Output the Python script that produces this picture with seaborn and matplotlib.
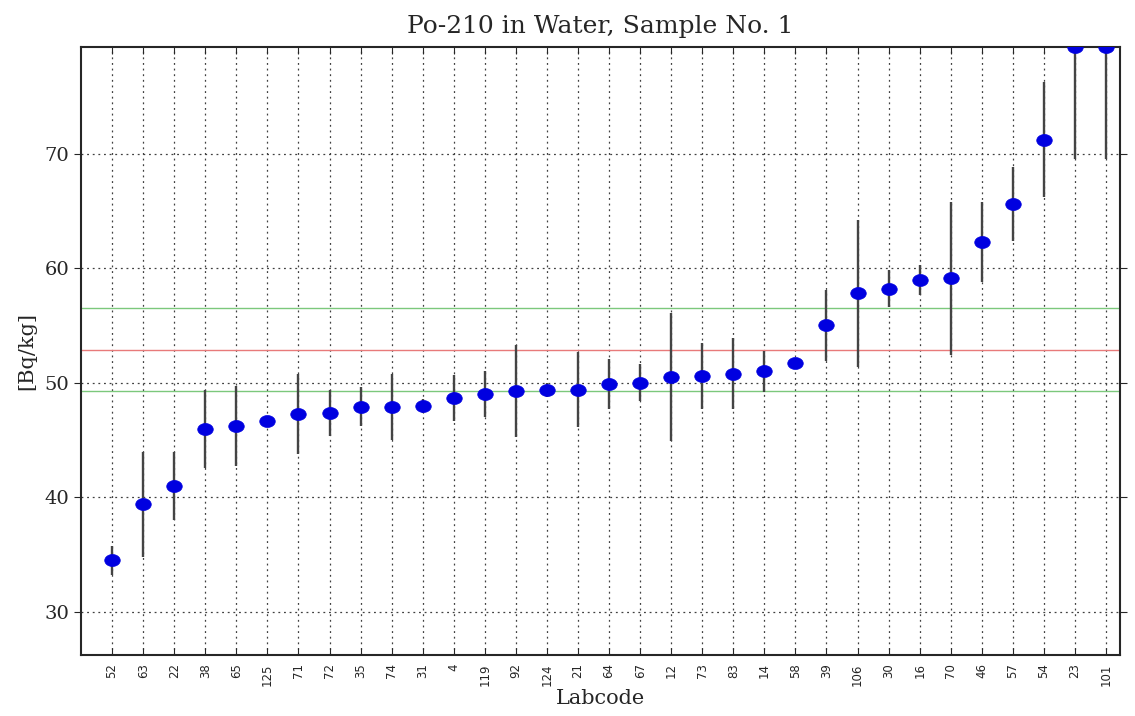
import numpy as np
import pandas as pd
import matplotlib
matplotlib.use("Agg")
import matplotlib.pyplot as plt
from matplotlib.path import Path
import seaborn as sns

labcodes = ["52", "63", "22", "38", "65", "125", "71", "72", "35", "74", "31", "4",
            "119", "92", "124", "21", "64", "67", "12", "73", "83", "14", "58", "39",
            "106", "30", "16", "70", "46", "57", "54", "23", "101"]
values = [34.5, 39.4, 41.0, 46.0, 46.2, 46.7, 47.3, 47.4, 47.9, 47.9, 48.0, 48.7,
          49.0, 49.3, 49.4, 49.4, 49.9, 50.0, 50.5, 50.6, 50.8, 51.0, 51.7, 55.0,
          57.8, 58.2, 59.0, 59.1, 62.3, 65.6, 71.2, 79.3, 79.3]
uncert = [1.3, 4.6, 3.0, 3.4, 3.5, 0.4, 3.5, 2.0, 1.7, 2.9, 0.6, 2.0,
          2.0, 4.0, 0.6, 3.3, 2.2, 1.6, 5.6, 2.9, 3.1, 1.8, 0.5, 3.1,
          6.4, 1.6, 1.3, 6.7, 3.5, 3.2, 5.0, 9.8, 9.8]
ref_value = 52.9
ref_low = 49.3
ref_high = 56.5

df = pd.DataFrame({"pos": np.arange(len(labcodes)), "Labcode": labcodes,
                   "value": values, "unc": uncert})

sns.set_style("white")
plt.rcParams["font.family"] = ["DejaVu Serif"]

fig = plt.figure(figsize=(11.35, 7.16), dpi=100)
ax = fig.add_axes([0.0714, 0.0852, 0.9154, 0.8492])

# reference lines
ax.axhline(ref_high, color="#7cc87c", lw=1.0, zorder=1)
ax.axhline(ref_value, color="#e87a7a", lw=1.0, zorder=1)
ax.axhline(ref_low, color="#7cc87c", lw=1.0, zorder=1)

ax.errorbar(df["pos"], df["value"], yerr=df["unc"], fmt="none",
            ecolor="#444444", elinewidth=1.7, capsize=0, zorder=2)

t = np.linspace(0, 2 * np.pi, 60)
ellipse = Path(np.column_stack([1.3 * np.cos(t), np.sin(t)]), closed=True)
sns.scatterplot(data=df, x="pos", y="value", ax=ax, marker=ellipse, s=125,
                color="#0000e0", edgecolor="#0000e0", linewidth=0.5, zorder=3,
                legend=False)

ax.set_xlim(-1.0, 32.45)
ax.set_ylim(26.25, 79.3)
ax.set_xticks(df["pos"])
ax.set_xticklabels(labcodes, rotation=90, fontsize=8.5, family="DejaVu Sans")
ax.set_yticks([30, 40, 50, 60, 70])
ax.tick_params(axis="y", labelsize=14, direction="out", length=5, right=True, left=True)
ax.tick_params(axis="x", direction="in", length=5, top=True, bottom=True, pad=6)
ax.grid(True, color="0.25", linestyle=(0, (1.5, 3)), linewidth=0.9)

for s in ax.spines.values():
    s.set_linewidth(1.5)
    s.set_color("0.15")

ax.set_title("Po-210 in Water, Sample No. 1", fontsize=18, pad=10)
ax.set_xlabel("Labcode", fontsize=15, labelpad=2)
ax.set_ylabel("[Bq/kg]", fontsize=15, labelpad=6)

fig.savefig("out.png", dpi=100)
